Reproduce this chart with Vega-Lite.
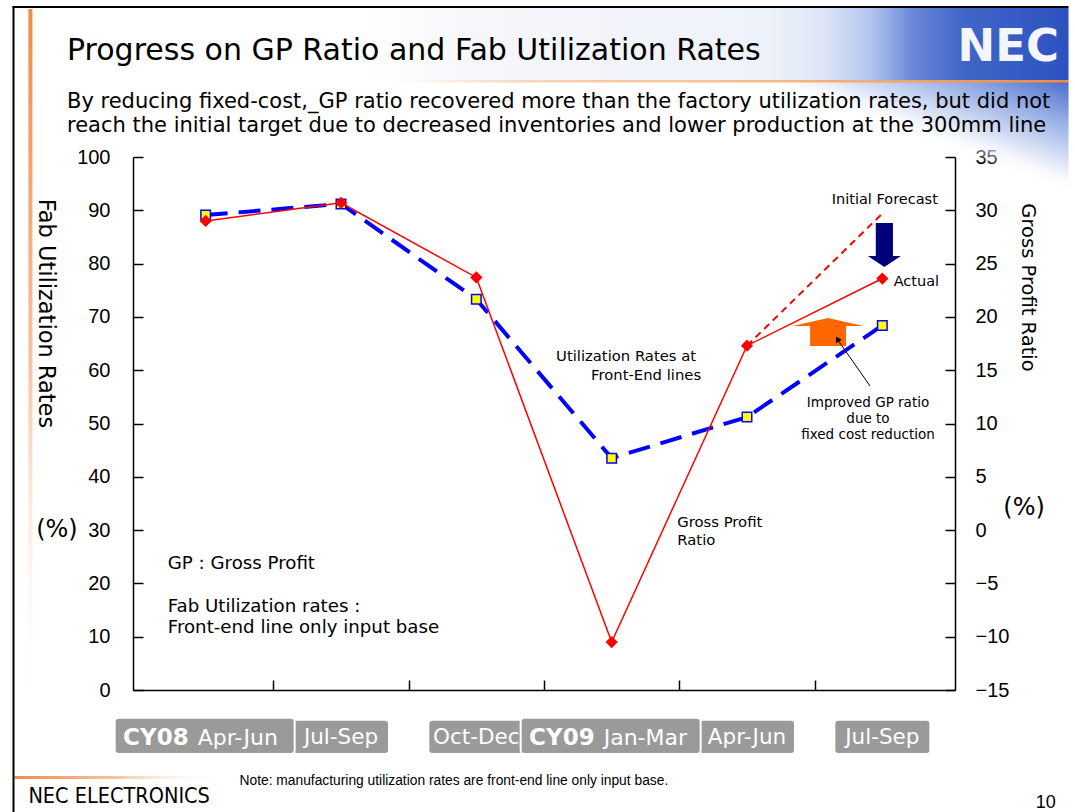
{
  "$schema": "https://vega.github.io/schema/vega-lite/v6.json",
  "width": 822,
  "height": 533,
  "autosize": {"type": "none"},
  "padding": {"left": 133, "top": 157, "right": 120, "bottom": 122},
  "background": "#ffffff",
  "config": {"view": {"stroke": null}, "text": {"font": "DejaVu Sans", "color": "#000000"}},
  "title": {
    "text": "Progress on GP Ratio and Fab Utilization Rates",
    "subtitle": ["By reducing fixed-cost,_GP ratio recovered more than the factory utilization rates, but did not", "reach the initial target due to decreased inventories and lower production at the 300mm line"],
    "anchor": "start",
    "frame": "group",
    "dx": -66,
    "offset": -131,
    "font": "DejaVu Sans",
    "fontSize": 30,
    "fontWeight": "normal",
    "color": "#000000",
    "subtitleFont": "DejaVu Sans",
    "subtitleFontSize": 21,
    "subtitleColor": "#000000",
    "subtitlePadding": 25,
    "subtitleLineHeight": 24
  },
  "datasets": {
    "quarters": [
      {"quarter": "CY08 Apr-Jun", "pre": "CY08", "suf": "Apr-Jun", "qn": 1, "util": 89.1, "gp": 29.0},
      {"quarter": "CY08 Jul-Sep", "pre": "", "suf": "Jul-Sep", "qn": 2, "util": 91.2, "gp": 30.7},
      {"quarter": "CY08 Oct-Dec", "pre": "", "suf": "Oct-Dec", "qn": 3, "util": 73.3, "gp": 23.7},
      {"quarter": "CY09 Jan-Mar", "pre": "CY09", "suf": "Jan-Mar", "qn": 4, "util": 43.5, "gp": -10.5},
      {"quarter": "CY09 Apr-Jun", "pre": "", "suf": "Apr-Jun", "qn": 5, "util": 51.2, "gp": 17.3},
      {"quarter": "CY09 Jul-Sep", "pre": "", "suf": "Jul-Sep", "qn": 6, "util": 68.4, "gp": 23.6}
    ],
    "forecast": [
      {"qn": 5, "gp": 17.3},
      {"qn": 6, "gp": 29.7}
    ],
    "one": [{}]
  },
  "layer": [
    {
      "layer": [
        {
          "data": {"name": "quarters"},
          "mark": {"type": "line", "color": "#0000ff", "strokeWidth": 4, "strokeDash": [22, 11]},
          "encoding": {
            "x": {"field": "qn", "type": "quantitative", "scale": {"domain": [0.5, 6.5], "nice": false, "zero": false},
              "axis": {"values": [1.5, 2.5, 3.5, 4.5, 5.5], "labels": false, "title": null, "tickSize": -10, "tickColor": "#000000", "tickWidth": 1.5, "domainColor": "#000000", "domainWidth": 1.5, "grid": false}},
            "y": {"field": "util", "type": "quantitative", "scale": {"domain": [0, 100], "nice": false, "zero": false},
              "axis": {"orient": "left", "values": [0, 10, 20, 30, 40, 50, 60, 70, 80, 90, 100], "title": "Fab Utilization Rates", "titleAngle": 90, "titleX": -88, "titleY": 156, "titleAlign": "center", "titleBaseline": "middle", "titleFont": "DejaVu Sans", "titleFontSize": 22.5, "titleFontWeight": "normal", "titleColor": "#000000", "labelFont": "Liberation Sans", "labelFontSize": 20, "labelColor": "#000000", "labelPadding": 33, "tickSize": -10, "tickColor": "#000000", "tickWidth": 1.5, "domainColor": "#000000", "domainWidth": 1.5, "grid": false, "labelFlush": false, "labelOverlap": false}}
          }
        },
        {
          "data": {"name": "one"},
          "mark": {"type": "rect", "fill": {"gradient": "linear", "x1": 0, "y1": 0, "x2": 1, "y2": 0, "stops": [
            {"offset": 0, "color": "rgba(240,243,248,0)"},
            {"offset": 0.2, "color": "#f4f6fa"},
            {"offset": 0.57, "color": "#eef2fa"},
            {"offset": 0.65, "color": "#dfe6f6"},
            {"offset": 0.72, "color": "#b3c4ee"},
            {"offset": 0.78, "color": "#6a88d8"},
            {"offset": 0.85, "color": "#4066c8"},
            {"offset": 1, "color": "#2d52c0"}]}},
          "encoding": {
            "x": {"datum": 2.157, "type": "quantitative"},
            "x2": {"datum": 7.376},
            "y": {"datum": 127.95, "type": "quantitative"},
            "y2": {"datum": 114.45}
          }
        },
        {
          "data": {"name": "one"},
          "mark": {"type": "rect", "fill": {"gradient": "linear", "x1": 1, "y1": 0, "x2": 0, "y2": 1, "stops": [
            {"offset": 0, "color": "#4a6fcc"},
            {"offset": 0.18, "color": "#95ade4"},
            {"offset": 0.38, "color": "#e4eaf8"},
            {"offset": 0.5, "color": "rgba(255,255,255,0)"},
            {"offset": 1, "color": "rgba(255,255,255,0)"}]}},
          "encoding": {
            "x": {"datum": 5.077, "type": "quantitative"},
            "x2": {"datum": 7.376},
            "y": {"datum": 114.07, "type": "quantitative"},
            "y2": {"datum": 92.87}
          }
        },
        {
          "data": {"name": "one"},
          "mark": {"type": "rect", "fill": {"gradient": "linear", "x1": 0, "y1": 0, "x2": 1, "y2": 0, "stops": [
            {"offset": 0, "color": "rgba(240,138,60,0)"},
            {"offset": 0.4, "color": "#f6c8a0"},
            {"offset": 1, "color": "#f08a3c"}]}},
          "encoding": {
            "x": {"datum": 2.449, "type": "quantitative"},
            "x2": {"datum": 7.376},
            "y": {"datum": 114.45, "type": "quantitative"},
            "y2": {"datum": 113.98}
          }
        },
        {
          "data": {"name": "one"},
          "mark": {"type": "rect", "fill": {"gradient": "linear", "x1": 0, "y1": 0, "x2": 0, "y2": 1, "stops": [
            {"offset": 0, "color": "#f08a4a"},
            {"offset": 0.5, "color": "#f6c4a0"},
            {"offset": 1, "color": "rgba(255,255,255,0)"}]}},
          "encoding": {
            "x": {"datum": -0.31, "type": "quantitative"},
            "x2": {"datum": -0.28},
            "y": {"datum": 127.77, "type": "quantitative"},
            "y2": {"datum": -5.63}
          }
        },
        {
          "data": {"name": "one"},
          "mark": {"type": "rect", "fill": {"gradient": "linear", "x1": 0, "y1": 0, "x2": 1, "y2": 0, "stops": [
            {"offset": 0, "color": "#f08a4a"},
            {"offset": 0.5, "color": "#f6c4a0"},
            {"offset": 1, "color": "rgba(255,255,255,0)"}]}},
          "encoding": {
            "x": {"datum": -0.412, "type": "quantitative"},
            "x2": {"datum": 1.099},
            "y": {"datum": -16.14, "type": "quantitative"},
            "y2": {"datum": -16.70}
          }
        },
        {
          "data": {"name": "one"},
          "mark": {"type": "rule", "color": "#000000", "strokeWidth": 2},
          "encoding": {
            "x": {"datum": -0.427, "type": "quantitative"},
            "x2": {"datum": 7.376},
            "y": {"datum": 128.14, "type": "quantitative"}
          }
        },
        {
          "data": {"name": "one"},
          "mark": {"type": "rule", "color": "#000000", "strokeWidth": 2},
          "encoding": {
            "x": {"datum": -0.420, "type": "quantitative"},
            "y": {"datum": 128.3, "type": "quantitative"},
            "y2": {"datum": -22.89}
          }
        },
        {
          "data": {"name": "one"},
          "mark": {"type": "text", "text": "NEC", "font": "DejaVu Sans", "fontWeight": "bold", "fontSize": 45, "color": "#f4f6ff", "align": "center", "baseline": "middle"},
          "encoding": {
            "x": {"datum": 6.93, "type": "quantitative"},
            "y": {"datum": 120.64, "type": "quantitative"}
          }
        },
        {
          "data": {"name": "quarters"},
          "mark": {"type": "point", "shape": "square", "size": 90, "filled": true, "fill": "#ffff00", "stroke": "#0000ff", "strokeWidth": 1.5, "opacity": 1},
          "encoding": {
            "x": {"field": "qn", "type": "quantitative"},
            "y": {"field": "util", "type": "quantitative"}
          }
        },
        {
          "data": {"name": "one"},
          "mark": {"type": "text", "text": "Initial Forecast", "align": "right", "baseline": "middle", "fontSize": 14.5},
          "encoding": {"x": {"datum": 6.41, "type": "quantitative"}, "y": {"datum": 91.93, "type": "quantitative"}}
        },
        {
          "data": {"name": "one"},
          "mark": {"type": "text", "text": "Actual", "align": "left", "baseline": "middle", "fontSize": 14.5},
          "encoding": {"x": {"datum": 6.084, "type": "quantitative"}, "y": {"datum": 76.55, "type": "quantitative"}}
        },
        {
          "data": {"name": "one"},
          "mark": {"type": "text", "text": "Utilization Rates at", "align": "right", "baseline": "middle", "fontSize": 14.8},
          "encoding": {"x": {"datum": 4.624, "type": "quantitative"}, "y": {"datum": 62.48, "type": "quantitative"}}
        },
        {
          "data": {"name": "one"},
          "mark": {"type": "text", "text": "Front-End lines", "align": "right", "baseline": "middle", "fontSize": 14.8},
          "encoding": {"x": {"datum": 4.661, "type": "quantitative"}, "y": {"datum": 58.91, "type": "quantitative"}}
        },
        {
          "data": {"name": "one"},
          "mark": {"type": "text", "text": "Gross Profit", "align": "left", "baseline": "middle", "fontSize": 14.8},
          "encoding": {"x": {"datum": 4.485, "type": "quantitative"}, "y": {"datum": 31.33, "type": "quantitative"}}
        },
        {
          "data": {"name": "one"},
          "mark": {"type": "text", "text": "Ratio", "align": "left", "baseline": "middle", "fontSize": 14.8},
          "encoding": {"x": {"datum": 4.485, "type": "quantitative"}, "y": {"datum": 27.95, "type": "quantitative"}}
        },
        {
          "data": {"name": "one"},
          "mark": {"type": "text", "text": "Improved GP ratio", "align": "center", "baseline": "middle", "fontSize": 13.5},
          "encoding": {"x": {"datum": 5.894, "type": "quantitative"}, "y": {"datum": 53.85, "type": "quantitative"}}
        },
        {
          "data": {"name": "one"},
          "mark": {"type": "text", "text": "due to", "align": "center", "baseline": "middle", "fontSize": 13.5},
          "encoding": {"x": {"datum": 5.894, "type": "quantitative"}, "y": {"datum": 50.84, "type": "quantitative"}}
        },
        {
          "data": {"name": "one"},
          "mark": {"type": "text", "text": "fixed cost reduction", "align": "center", "baseline": "middle", "fontSize": 13.5},
          "encoding": {"x": {"datum": 5.894, "type": "quantitative"}, "y": {"datum": 47.84, "type": "quantitative"}}
        },
        {
          "data": {"name": "one"},
          "mark": {"type": "text", "text": "GP : Gross Profit", "align": "left", "baseline": "middle", "fontSize": 18.2},
          "encoding": {"x": {"datum": 0.72, "type": "quantitative"}, "y": {"datum": 23.64, "type": "quantitative"}}
        },
        {
          "data": {"name": "one"},
          "mark": {"type": "text", "text": "Fab Utilization rates :", "align": "left", "baseline": "middle", "fontSize": 18.2},
          "encoding": {"x": {"datum": 0.72, "type": "quantitative"}, "y": {"datum": 15.57, "type": "quantitative"}}
        },
        {
          "data": {"name": "one"},
          "mark": {"type": "text", "text": "Front-end line only input base", "align": "left", "baseline": "middle", "fontSize": 18.2},
          "encoding": {"x": {"datum": 0.72, "type": "quantitative"}, "y": {"datum": 11.63, "type": "quantitative"}}
        },
        {
          "data": {"name": "one"},
          "mark": {"type": "text", "text": "(%)", "align": "center", "baseline": "middle", "fontSize": 24},
          "encoding": {"x": {"datum": -0.099, "type": "quantitative"}, "y": {"datum": 30.02, "type": "quantitative"}}
        },
        {
          "data": {"name": "one"},
          "mark": {"type": "text", "text": "(%)", "align": "center", "baseline": "middle", "fontSize": 24},
          "encoding": {"x": {"datum": 7.047, "type": "quantitative"}, "y": {"datum": 34.15, "type": "quantitative"}}
        },
        {
          "data": {"name": "one"},
          "mark": {"type": "point", "shape": "M-0.39,-1L0.39,-1L0.39,0.5L0.75,0.5L0,1L-0.75,0.5L-0.39,0.5Z", "size": 1936, "filled": true, "color": "#00007a", "opacity": 1},
          "encoding": {"x": {"datum": 6.015, "type": "quantitative"}, "y": {"datum": 83.49, "type": "quantitative"}}
        },
        {
          "data": {"name": "one"},
          "mark": {"type": "point", "shape": "M-0.507,0.394L0.507,0.394L0.507,-0.169L1,-0.169L0,-0.394L-1,-0.169L-0.507,-0.169Z", "size": 5041, "filled": true, "color": "#ff6600", "opacity": 1},
          "encoding": {"x": {"datum": 5.599, "type": "quantitative"}, "y": {"datum": 67.17, "type": "quantitative"}}
        },
        {
          "data": {"name": "one"},
          "mark": {"type": "rule", "color": "#000000", "strokeWidth": 1},
          "encoding": {
            "x": {"datum": 5.909, "type": "quantitative"},
            "x2": {"datum": 5.661},
            "y": {"datum": 57.04, "type": "quantitative"},
            "y2": {"datum": 66.04}
          }
        },
        {
          "data": {"name": "one"},
          "mark": {"type": "point", "shape": "triangle-up", "size": 45, "filled": true, "color": "#000000", "opacity": 1, "angle": 329},
          "encoding": {"x": {"datum": 5.668, "type": "quantitative"}, "y": {"datum": 65.85, "type": "quantitative"}}
        },
        {
          "data": {"name": "quarters"},
          "transform": [{"filter": "datum.pre == ''"}],
          "mark": {"type": "bar", "color": "#9a9a9a", "cornerRadius": 4, "width": 96, "stroke": "#ffffff", "strokeWidth": 2},
          "encoding": {
            "x": {"field": "qn", "type": "quantitative"},
            "y": {"datum": -5.6, "type": "quantitative"},
            "y2": {"datum": -12.0}
          }
        },
        {
          "data": {"name": "quarters"},
          "transform": [{"filter": "datum.pre != ''"}],
          "mark": {"type": "bar", "color": "#9a9a9a", "cornerRadius": 4, "width": 180, "xOffset": -1, "stroke": "#ffffff", "strokeWidth": 2},
          "encoding": {
            "x": {"field": "qn", "type": "quantitative"},
            "y": {"datum": -5.2, "type": "quantitative"},
            "y2": {"datum": -12.0}
          }
        },
        {
          "data": {"name": "quarters"},
          "transform": [{"filter": "datum.pre != ''"}],
          "mark": {"type": "text", "align": "right", "baseline": "middle", "dx": -17, "fontSize": 23, "fontWeight": "bold", "color": "#ffffff"},
          "encoding": {
            "x": {"field": "qn", "type": "quantitative"},
            "y": {"datum": -9.0, "type": "quantitative"},
            "text": {"field": "pre"}
          }
        },
        {
          "data": {"name": "quarters"},
          "transform": [{"filter": "datum.pre != ''"}],
          "mark": {"type": "text", "align": "left", "baseline": "middle", "dx": -8, "fontSize": 22, "color": "#ffffff"},
          "encoding": {
            "x": {"field": "qn", "type": "quantitative"},
            "y": {"datum": -9.0, "type": "quantitative"},
            "text": {"field": "suf"}
          }
        },
        {
          "data": {"name": "quarters"},
          "transform": [{"filter": "datum.pre == ''"}],
          "mark": {"type": "text", "align": "center", "baseline": "middle", "fontSize": 21.5, "color": "#ffffff"},
          "encoding": {
            "x": {"field": "qn", "type": "quantitative"},
            "y": {"datum": -9.0, "type": "quantitative"},
            "text": {"field": "suf"}
          }
        },
        {
          "data": {"name": "one"},
          "mark": {"type": "text", "text": "NEC ELECTRONICS", "align": "left", "baseline": "middle", "font": "Liberation Sans Narrow, DejaVu Sans Condensed", "fontSize": 21.5},
          "encoding": {"x": {"datum": -0.31, "type": "quantitative"}, "y": {"datum": -20.08, "type": "quantitative"}}
        },
        {
          "data": {"name": "one"},
          "mark": {"type": "text", "text": "Note: manufacturing utilization rates are front-end line only input base.", "align": "left", "baseline": "middle", "font": "Liberation Sans", "fontSize": 13.8},
          "encoding": {"x": {"datum": 1.25, "type": "quantitative"}, "y": {"datum": -17.07, "type": "quantitative"}}
        },
        {
          "data": {"name": "one"},
          "mark": {"type": "text", "text": "10", "align": "right", "baseline": "middle", "font": "Liberation Sans", "fontSize": 18},
          "encoding": {"x": {"datum": 7.281, "type": "quantitative"}, "y": {"datum": -21.2, "type": "quantitative"}}
        }
      ]
    },
    {
      "layer": [
        {
          "data": {"name": "forecast"},
          "mark": {"type": "line", "color": "#ff0000", "strokeWidth": 2, "strokeDash": [7, 5]},
          "encoding": {
            "x": {"field": "qn", "type": "quantitative"},
            "y": {"field": "gp", "type": "quantitative"}
          }
        },
        {
          "data": {"name": "quarters"},
          "mark": {"type": "line", "color": "#ff0000", "strokeWidth": 1.5},
          "encoding": {
            "x": {"field": "qn", "type": "quantitative"},
            "y": {"field": "gp", "type": "quantitative", "scale": {"domain": [-15, 35], "nice": false, "zero": false},
              "axis": {"orient": "right", "values": [-15, -10, -5, 0, 5, 10, 15, 20, 25, 30, 35], "title": "Gross Profit Ratio", "titleAngle": 90, "titleX": 72, "titleY": 130, "titleAlign": "center", "titleBaseline": "middle", "titleFont": "DejaVu Sans", "titleFontSize": 19.5, "titleFontWeight": "normal", "titleColor": "#000000", "labelFont": "Liberation Sans", "labelFontSize": 20, "labelColor": "#000000", "labelPadding": 30, "tickSize": -10, "tickColor": "#000000", "tickWidth": 1.5, "domainColor": "#000000", "domainWidth": 1.5, "grid": false, "labelFlush": false, "labelOverlap": false}}
          }
        },
        {
          "data": {"name": "quarters"},
          "mark": {"type": "point", "shape": "diamond", "size": 150, "filled": true, "color": "#ff0000", "opacity": 1},
          "encoding": {
            "x": {"field": "qn", "type": "quantitative"},
            "y": {"field": "gp", "type": "quantitative"}
          }
        }
      ]
    }
  ],
  "resolve": {"scale": {"y": "independent"}}
}
